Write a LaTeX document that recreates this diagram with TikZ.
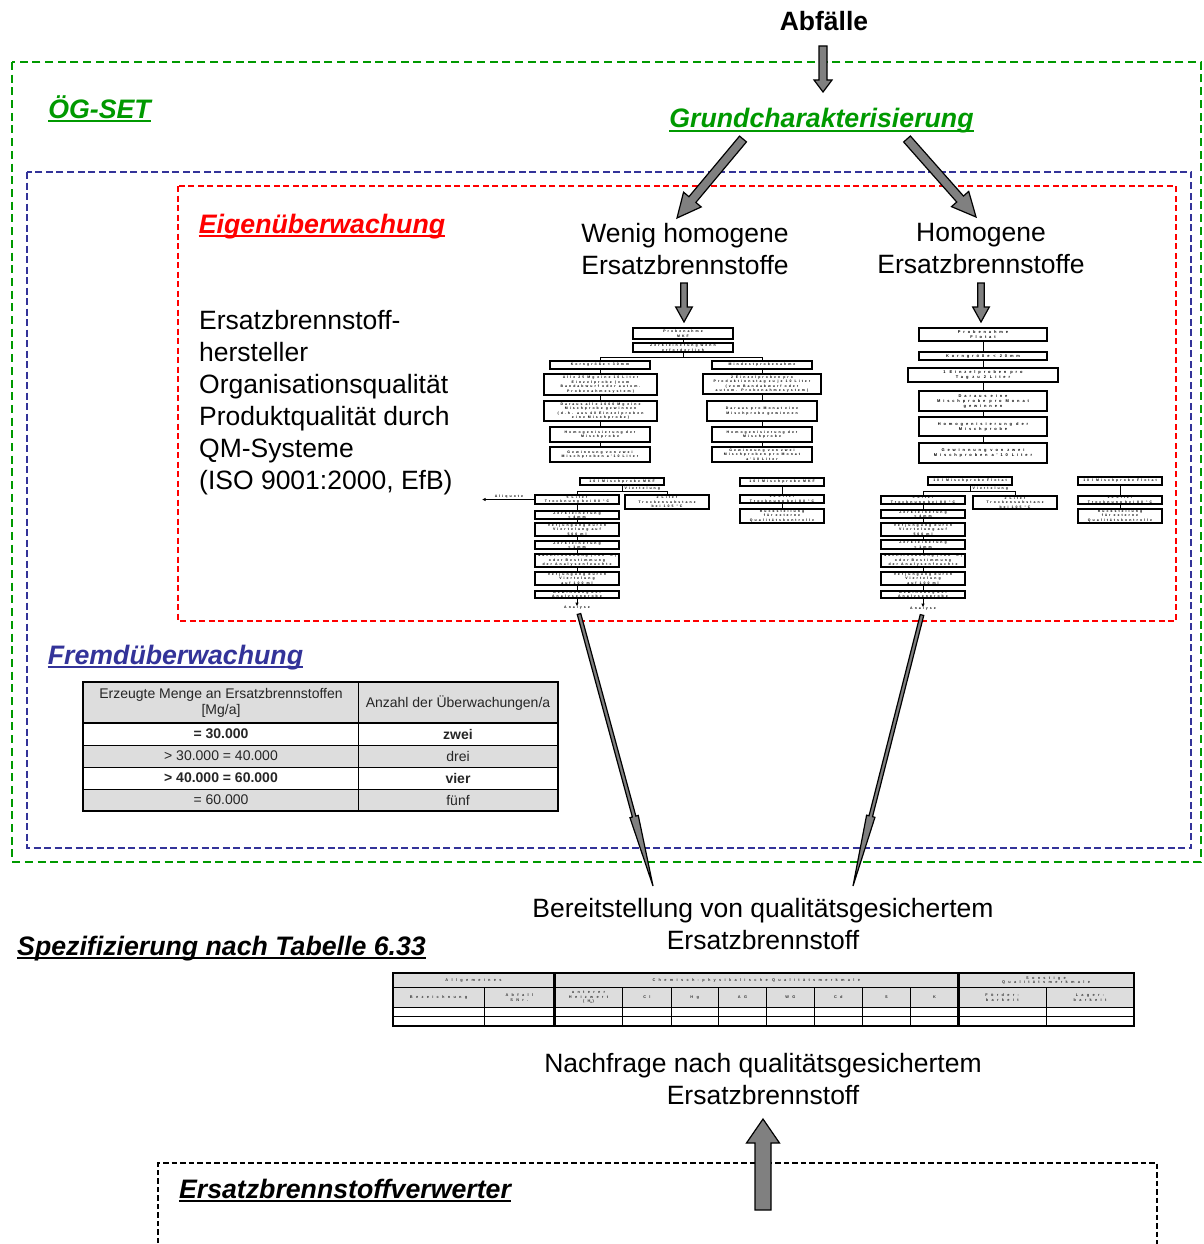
\documentclass[tikz,border=0pt]{standalone}
\usepackage{fontspec}
\setmainfont{Liberation Sans}
\newfontfamily\fcfont[LetterSpace=58]{Liberation Sans}
\newfontfamily\fcfontw[LetterSpace=72]{Liberation Sans}
\newfontfamily\tbfont[LetterSpace=85]{Liberation Sans}
\usetikzlibrary{calc,arrows.meta}

\definecolor{ogreen}{HTML}{009900}
\definecolor{fblue}{HTML}{333399}
\definecolor{ered}{HTML}{FF0000}
\definecolor{arrowgray}{HTML}{808080}
\definecolor{cellgray}{HTML}{DDDDDD}

\tikzset{
  frame/.style={line width=2pt},
  heading/.style={font=\fontsize{26.7}{30}\selectfont\bfseries\itshape, inner sep=0pt, anchor=base},
  bigtext/.style={font=\fontsize{26.5}{32}\selectfont, align=center, inner sep=0pt,
    execute at begin node=\strut, execute at end node=\strut},
  blockarrow/.style={fill=arrowgray, draw=black, line width=1.2pt, line join=miter},
  fcbox/.style={draw, line width=1.3pt, inner sep=0pt},
  fctext/.style={align=center, inner sep=0pt, font=\fcfont\bfseries\fontsize{3.5}{4.5}\selectfont},
  fcwide/.style={font=\fcfontw\bfseries\fontsize{4}{5}\selectfont},
  fcline/.style={line width=0.8pt},
  tbtext/.style={align=center, inner sep=0pt, text=black!80, font=\tbfont\bfseries\fontsize{3.9}{4.6}\selectfont},
  fmtext/.style={align=center, inner sep=0pt, text=black!85, font=\fontsize{14}{16}\selectfont},
}

% gray block arrow: start, tip, shaft half width, head half width, head length
\newcommand{\blockarrow}[5]{%
  \coordinate (ba-h) at ($(#2)!#5!(#1)$);
  \filldraw[blockarrow]
    ($(#1)!#3!90:(#2)$) -- ($(ba-h)!#3!90:(#2)$) -- ($(ba-h)!#4!90:(#2)$) -- (#2)
    -- ($(ba-h)!#4!-90:(#2)$) -- ($(ba-h)!#3!-90:(#2)$) -- ($(#1)!#3!-90:(#2)$) -- cycle;}

% flowchart box from its corners: [text style]{name}{x1}{y1}{x2}{y2}{text}
\newcommand{\fcbox}[7][]{%
  \pgfmathsetmacro{\fcw}{#5-#3}%
  \pgfmathsetmacro{\fch}{#6-#4}%
  \node[fcbox, minimum width=\fcw pt, minimum height=\fch pt] (#2) at ({(#3+#5)/2},{(#4+#6)/2}) {};
  \node[fctext,#1] (#2-t) at (#2.center) {#7};}

% vertical link between two stacked boxes
\newcommand{\vlink}[2]{\draw[fcline] (#1.south) -- (#1.south |- #2.north);}

% underlined heading: name, x, y (baseline), colour, text
\newcommand{\ulheading}[5]{%
  \node[heading, text=#4] (#1) at (#2,#3) {#5};
  \draw[#4, line width=1.8pt] ([yshift=-3.2pt]#1.base west) -- ([yshift=-3.2pt]#1.base east);}

\begin{document}
\begin{tikzpicture}[x=1pt,y=-1pt]
\useasboundingbox (0,0) rectangle (1203,1244);
\clip (0,0) rectangle (1203,1244);
\fill[white] (0,0) rectangle (1203,1244);

% ---------- dashed frames ----------
\draw[frame, ogreen, dash pattern=on 8pt off 4.7pt] (12,62) rectangle (1201,862);
\draw[frame, fblue, line width=1.7pt, dash pattern=on 7pt off 3.5pt] (27,172) rectangle (1191,848);
\draw[frame, ered, dash pattern=on 6pt off 3.5pt] (178,186) rectangle (1176,621);
\draw[frame, black, dash pattern=on 5.5pt off 3pt] (158,1260) -- (158,1163) -- (1157,1163) -- (1157,1260);

% ---------- headings ----------
\node[font=\fontsize{26.5}{30}\selectfont\bfseries, anchor=base, inner sep=0pt] (abf) at (824,31) {Abfälle};
\ulheading{ogset}{99.5}{118}{ogreen}{ÖG-SET}
\ulheading{grund}{821.5}{128}{ogreen}{Grundcharakterisierung}
\ulheading{eigen}{322}{233}{ered}{Eigenüberwachung}
\ulheading{fremd}{175.5}{664}{fblue}{Fremdüberwachung}
\ulheading{spez}{221.5}{955}{black}{Spezifizierung nach Tabelle 6.33}
\ulheading{verw}{345}{1198}{black}{Ersatzbrennstoffverwerter}

% ---------- large texts ----------
\node[bigtext] (wenig) at (685,253.6) {Wenig homogene\\Ersatzbrennstoffe};
\node[bigtext] (homog) at (981,253.6) {Homogene\\Ersatzbrennstoffe};
\node[bigtext, align=left, anchor=west] (herst) at (199,404.6)
  {Ersatzbrennstoff-\\hersteller\\Organisationsqualität\\Produktqualität durch\\QM-Systeme\\(ISO 9001:2000, EfB)};
\node[bigtext] (bereit) at (763,928.6) {Bereitstellung von qualitätsgesichertem\\Ersatzbrennstoff};
\node[bigtext] (nachf) at (763,1083.6) {Nachfrage nach qualitätsgesichertem\\Ersatzbrennstoff};

% ---------- sampling scheme, less homogeneous fuels ----------
\fcbox{P1}{633}{328}{733}{339}{Probenahme\\MKF}
\fcbox{Z1}{633}{343}{733}{352}{Zerkleinerung wenn\\erforderlich}
\fcbox{K1}{550}{361}{650}{369}{Korngröße < 30mm}
\fcbox{M1}{712}{361}{812}{369}{Mindestprobenahme}
\fcbox{A1}{544}{374}{657}{395}{Alle 25 Mg eine 10 Liter\\Einzelprobe (vom\\Bandabwurf oder autom.\\Probenahmesystem)}
\fcbox{D1}{544}{401}{657}{421}{Daraus alle 1000 Mg eine\\Mischprobe gewinnen\\(d.h. aus 40 Einzelproben\\eine Mischprobe)}
\fcbox{H1}{550}{427}{650}{442}{Homogenisierung der\\Mischprobe}
\fcbox{G1}{550}{447}{650}{462}{Gewinnung von zwei\\Mischproben a'10 Liter}
\fcbox{E2}{703}{374}{821}{394}{2 Einzelproben pro\\Produktionstag zu je 10 Liter\\(vom Bandabwurf oder\\autom. Probenahmesystem)}
\fcbox{D2}{707}{401}{817}{421}{Daraus pro Monat eine\\Mischprobe gewinnen}
\fcbox{H2}{712}{427}{812}{442}{Homogenisierung der\\Mischprobe}
\fcbox{G2}{712}{447}{812}{462}{Gewinnung von zwei\\Mischproben pro Monat\\a'10 Liter}

\vlink{P1}{Z1}
\draw[fcline] (Z1.south) -- ++(0,5) -| (K1.north);
\draw[fcline] (Z1.south) ++(0,5) -| (M1.north);
\vlink{K1}{A1} \vlink{A1}{D1} \vlink{D1}{H1} \vlink{H1}{G1}
\vlink{M1}{E2} \vlink{E2}{D2} \vlink{D2}{H2} \vlink{H2}{G2}

\fcbox{L10}{580}{478}{664}{485}{10 l Mischprobe MKF}
\fcbox{L5}{535}{495}{619}{504}{5 Liter\\Trocknung bei 80 °C}
\fcbox{L2}{625}{495}{709}{509}{2 Liter\\Trockensubstanz\\bei 105 °C}
\fcbox{LZ4}{535}{511}{619}{519}{Zerkleinerung\\< 4mm}
\fcbox{LV5}{535}{523}{619}{536}{Verjüngung durch\\Viertelung auf\\500 ml}
\fcbox{LZ1}{535}{541}{619}{549}{Zerkleinerung\\< 1mm}
\fcbox{LN}{535}{554}{619}{567}{Nachtrocknung (<80 °C)\\oder Bestimmung\\der Analysenfeuchte}
\fcbox{LV1}{535}{572}{619}{585}{Verjüngung durch\\Viertelung\\auf 100 ml}
\fcbox{LG}{535}{591}{619}{598}{Gewinnung der\\Analysenprobe}
\fcbox{R10}{740}{478}{824}{486}{10 l Mischprobe MKF}
\fcbox{R10T}{740}{495}{824}{503}{10 Liter\\Trocknung bei 80 °C}
\fcbox{RR}{740}{509}{824}{523}{Rückstellung\\für externe\\Qualitätskontrolle}

\draw[fcline] (L10.south) -- ++(0,6) -| (L5.north);
\draw[fcline] (L10.south) ++(0,6) -| (L2.north);
\node[fctext, anchor=south west] (viert1) at (624.5,490.3) {Viertelung};
\vlink{L5}{LZ4} \vlink{LZ4}{LV5} \vlink{LV5}{LZ1} \vlink{LZ1}{LN} \vlink{LN}{LV1} \vlink{LV1}{LG}
\vlink{R10}{R10T} \vlink{R10T}{RR}
\coordinate (aliqEnd) at (482,499.5);
\draw[fcline, -{Latex[length=3.5pt,width=3.5pt]}] (L5.west) -- (aliqEnd);
\node[fctext, anchor=south] (aliq) at (509,498.5) {Aliquote};
\node[fctext] (ana1) at (577,608) {Analyse};
\draw[fcline, -{Latex[length=3.5pt,width=3.5pt]}] (LG.south) -- (ana1.north);

% ---------- sampling scheme, homogeneous fuels ----------
\fcbox[fcwide]{P2}{919}{328}{1047}{341}{Probenahme\\Flotat}
\fcbox[fcwide]{K2}{919}{352}{1047}{360}{Korngröße < 20mm}
\fcbox[fcwide]{E3}{908}{368}{1058}{382}{1 Einzelproben pro\\Tag zu 2 Liter}
\fcbox[fcwide]{D3}{919}{391}{1047}{411}{Daraus eine\\Mischprobe pro Monat\\gewinnen}
\fcbox[fcwide]{H3}{919}{417}{1047}{436}{Homogenisierung der\\Mischprobe}
\fcbox[fcwide]{G3}{919}{443}{1047}{463}{Gewinnung von zwei\\Mischproben a'10 Liter}
\vlink{P2}{K2} \vlink{K2}{E3} \vlink{E3}{D3} \vlink{D3}{H3} \vlink{H3}{G3}

\fcbox{F10}{928}{477}{1012}{485}{10 l Mischprobe Flotat}
\fcbox{F5}{881}{496}{965}{504}{5 Liter\\Trocknung bei 80 °C}
\fcbox{F2}{973}{496}{1057}{509}{2 Liter\\Trockensubstanz\\bei 105 °C}
\fcbox{FZ4}{881}{510}{965}{518}{Zerkleinerung\\< 4mm}
\fcbox{FV5}{881}{523}{965}{536}{Verjüngung durch\\Viertelung auf\\500 ml}
\fcbox{FZ1}{881}{540}{965}{549}{Zerkleinerung\\< 1mm}
\fcbox{FN}{881}{554}{965}{567}{Nachtrocknung (<80 °C)\\oder Bestimmung\\der Analysenfeuchte}
\fcbox{FV1}{881}{572}{965}{585}{Verjüngung durch\\Viertelung\\auf 100 ml}
\fcbox{FG}{881}{591}{965}{598}{Gewinnung der\\Analysenprobe}
\fcbox{S10}{1078}{477}{1162}{485}{10 l Mischprobe Flotat}
\fcbox{S10T}{1078}{496}{1162}{504}{10 Liter\\Trocknung bei 80 °C}
\fcbox{SR}{1078}{509}{1162}{523}{Rückstellung\\für externe\\Qualitätskontrolle}

\draw[fcline] (F10.south) -- ++(0,6) -| (F5.north);
\draw[fcline] (F10.south) ++(0,6) -| (F2.north);
\node[fctext, anchor=south west] (viert2) at (972.5,490.3) {Viertelung};
\vlink{F5}{FZ4} \vlink{FZ4}{FV5} \vlink{FV5}{FZ1} \vlink{FZ1}{FN} \vlink{FN}{FV1} \vlink{FV1}{FG}
\vlink{S10}{S10T} \vlink{S10T}{SR}
\node[fctext] (ana2) at (923,609) {Analyse};
\draw[fcline, -{Latex[length=3.5pt,width=3.5pt]}] (FG.south) -- (ana2.north);

% ---------- block arrows ----------
\coordinate (abfS) at (823,46);   \coordinate (abfE) at (823,92);
\coordinate (grL1) at (743,139);  \coordinate (grL2) at (677,218);
\coordinate (grR1) at (907,139);  \coordinate (grR2) at (976,217);
\coordinate (dnL1) at (684,283);  \coordinate (dnL2) at (684,322);
\coordinate (dnR1) at (981,283);  \coordinate (dnR2) at (981,322);
\coordinate (lgL1) at (579,614);  \coordinate (lgL2) at (653,886);
\coordinate (lgR1) at (922,615);  \coordinate (lgR2) at (853,886);
\coordinate (upS) at (763,1210);  \coordinate (upE) at (763,1119);
\blockarrow{abfS}{abfE}{4pt}{9pt}{12pt}
\blockarrow{grL1}{grL2}{4.5pt}{11.5pt}{24pt}
\blockarrow{grR1}{grR2}{4.5pt}{11.5pt}{24pt}
\blockarrow{dnL1}{dnL2}{3.2pt}{8.3pt}{15pt}
\blockarrow{dnR1}{dnR2}{3.2pt}{8.3pt}{15pt}
\blockarrow{lgL1}{lgL2}{1.8pt}{4.3pt}{72pt}
\blockarrow{lgR1}{lgR2}{1.8pt}{4.3pt}{72pt}
\blockarrow{upS}{upE}{8pt}{16.5pt}{24pt}

% ---------- monitoring frequency table ----------
\fill[cellgray] (83,682) rectangle (558,723);
\fill[cellgray] (83,745) rectangle (558,767);
\fill[cellgray] (83,789) rectangle (558,811);
\draw[line width=0.8pt] (83,745) -- (558,745) (83,767) -- (558,767) (83,789) -- (558,789) (358,682) -- (358,811);
\draw[line width=1.6pt] (83,723) -- (558,723);
\draw[line width=1.8pt] (83,682) rectangle (558,811);
\node[fmtext] (fh1) at (221,703) {Erzeugte Menge an Ersatzbrennstoffen\\{}[Mg/a]};
\node[fmtext] (fh2) at (458,703) {Anzahl der Überwachungen/a};
\node[fmtext, font=\fontsize{14}{16}\selectfont\bfseries] (fa1) at (221,734) {= 30.000};
\node[fmtext, font=\fontsize{14}{16}\selectfont\bfseries] (fb1) at (458,734) {zwei};
\node[fmtext] (fa2) at (221,756) {> 30.000 = 40.000};
\node[fmtext] (fb2) at (458,756) {drei};
\node[fmtext, font=\fontsize{14}{16}\selectfont\bfseries] (fa3) at (221,778) {> 40.000 = 60.000};
\node[fmtext, font=\fontsize{14}{16}\selectfont\bfseries] (fb3) at (458,778) {vier};
\node[fmtext] (fa4) at (221,800) {= 60.000};
\node[fmtext] (fb4) at (458,800) {fünf};

% ---------- specification table ----------
\fill[cellgray] (393,973) rectangle (1134,1007.5);
\draw[line width=0.7pt] (393,987.5) -- (1134,987.5) (393,1007.5) -- (1134,1007.5) (393,1016.5) -- (1134,1016.5);
\foreach \cx in {484.3,622.7,671,718.3,766.7,814.3,862.3,910.7,1046}
  \draw[line width=0.7pt] (\cx,987.5) -- (\cx,1026);
\foreach \cx in {393,554.3,958.3,1134}
  \draw[line width=2.4pt] (\cx,972) -- (\cx,1027);
\draw[line width=2pt] (392,973) -- (1135,973) (392,1026) -- (1135,1026);
\node[tbtext] (tAll) at (473.5,980.5) {Allgemeines};
\node[tbtext] (tChem) at (756.3,980.5) {Chemisch-physikalische Qualitätsmerkmale};
\node[tbtext] (tSon) at (1046,980.5) {Sonstige\\Qualitätsmerkmale};
\node[tbtext] (tBez) at (438.6,997.5) {Bezeichnung};
\node[tbtext] (tSNr) at (519.3,997.5) {Abfall\\SNr.};
\node[tbtext] (tHu) at (588.5,997.5) {unterer\\Heizwert\\(H\textsubscript{u})};
\node[tbtext] (tCl) at (646.9,997.5) {Cl};
\node[tbtext] (tHg) at (694.7,997.5) {Hg};
\node[tbtext] (tAG) at (742.5,997.5) {AG};
\node[tbtext] (tWG) at (790.5,997.5) {WG};
\node[tbtext] (tCd) at (838.3,997.5) {Cd};
\node[tbtext] (tS) at (886.5,997.5) {S};
\node[tbtext] (tK) at (934.5,997.5) {K};
\node[tbtext] (tFoe) at (1002.2,997.5) {Förder-\\barkeit};
\node[tbtext] (tLag) at (1090,997.5) {Lager-\\barkeit};
\end{tikzpicture}
\end{document}
